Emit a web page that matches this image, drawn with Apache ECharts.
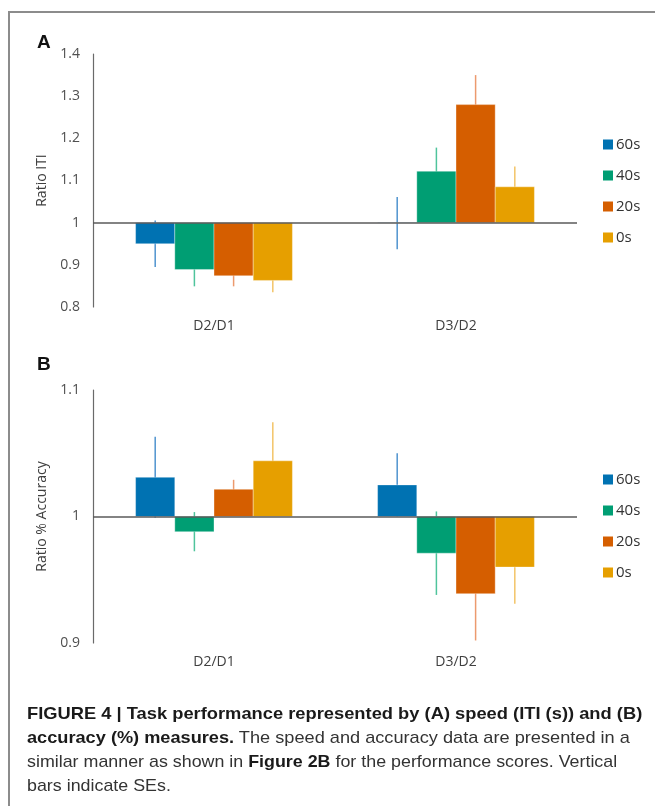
<!DOCTYPE html>
<html>
<head>
<meta charset="utf-8">
<script src="https://cdn.jsdelivr.net/npm/echarts@6/dist/echarts.min.js"></script>
<style>
  html, body { margin: 0; padding: 0; background: #fff; }
  #wrap { position: relative; width: 655px; height: 806px; overflow: hidden; }
  #chart { position: absolute; left: 0; top: 0; width: 655px; height: 806px; }
  #frame { position: absolute; left: 8px; top: 11px; width: 800px; height: 900px;
    border-top: 2px solid #8c8c8c; border-left: 2px solid #8c8c8c; pointer-events: none; }
  #caption { position: absolute; left: 27px; top: 702px; font-family: "Liberation Sans", Arial, sans-serif;
    font-size: 17px; line-height: 24px; color: #333; white-space: nowrap; }
  #caption span { display: inline-block; transform-origin: 0 50%; }
  #caption b { color: #1a1a1a; }
</style>
</head>
<body>
<div id="wrap">
  <div id="chart"></div>
  <div id="frame"></div>
  <div id="caption">
    <span data-w="615"><b>FIGURE 4 | Task performance represented by (A) speed (ITI (s)) and (B)</b></span><br>
    <span data-w="603"><b>accuracy (%) measures.</b> The speed and accuracy data are presented in a</span><br>
    <span data-w="590">similar manner as shown in <b>Figure 2B</b> for the performance scores. Vertical</span><br>
    <span>bars indicate SEs.</span>
  </div>
</div>
<script>
// categories and groups
const categories = ['D2/D1', 'D3/D2'];
const groupNames = ['60s', '40s', '20s', '0s'];

// panel A: ratio ITI (mean, SE) per category
const iti60 = [0.950, 0.999];
const iti40 = [0.889, 1.122];
const iti20 = [0.874, 1.280];
const iti0 = [0.863, 1.085];
const itiSe60 = [0.055, 0.062];
const itiSe40 = [0.040, 0.056];
const itiSe20 = [0.025, 0.070];
const itiSe0 = [0.028, 0.048];

// panel B: ratio % accuracy (mean, SE) per category
const acc60 = [1.031, 1.025];
const acc40 = [0.988, 0.971];
const acc20 = [1.0215, 0.939];
const acc0 = [1.044, 0.960];
const accSe60 = [0.032, 0.025];
const accSe40 = [0.0155, 0.033];
const accSe20 = [0.0075, 0.037];
const accSe0 = [0.0305, 0.029];

const barColors = ['#0072B2', '#009E73', '#D55E00', '#E69F00'];
const errColors = ['#4f93cf', '#4fc49c', '#ec9a6e', '#f3c468'];
const BAR_FRACTION = 0.162; // bar width as part of category band

// stretch caption lines to the widths of the original figure
let lastScale = 1;
document.querySelectorAll('#caption span').forEach(function (el) {
  const target = el.getAttribute('data-w');
  const s = target ? Number(target) / el.offsetWidth : lastScale;
  el.style.transform = 'scaleX(' + s + ')';
  lastScale = s;
});

const chart = echarts.init(document.getElementById('chart'));

function barRenderer(slot) {
  return function (params, api) {
    const ci = api.value(0);
    const v = api.value(1);
    const se = api.value(2);
    const band = api.size([1, 0])[0];
    const w = band * BAR_FRACTION;
    const base = api.coord([ci, 1]);
    const cx = base[0] + (slot - 1.5) * w;
    const yv = api.coord([ci, v])[1];
    const yHi = api.coord([ci, v + se])[1];
    const yLo = api.coord([ci, v - se])[1];
    return {
      type: 'group',
      children: [
        { type: 'line', shape: { x1: cx, y1: yHi, x2: cx, y2: yLo },
          style: { stroke: errColors[slot], lineWidth: 1.5 } },
        { type: 'rect',
          shape: { x: cx - w / 2, y: Math.min(yv, base[1]), width: w, height: Math.abs(yv - base[1]) },
          style: { fill: barColors[slot], stroke: 'rgba(255,255,255,0.35)', lineWidth: 1 } }
      ]
    };
  };
}

function makeSeries(slot, vals, ses, axisIdx) {
  const s = {
    name: groupNames[slot],
    type: 'custom',
    xAxisIndex: axisIdx,
    yAxisIndex: axisIdx,
    renderItem: barRenderer(slot),
    itemStyle: { color: barColors[slot] },
    encode: { x: 0, y: 1 },
    data: vals.map((v, i) => [i, v, ses[i]]),
    silent: true
  };
  if (slot === 0) {
    // baseline at ratio 1
    s.markLine = {
      silent: true, symbol: 'none', label: { show: false },
      lineStyle: { color: '#5a5a5a', width: 1.5, type: 'solid' },
      data: [{ yAxis: 1 }]
    };
  }
  return s;
}

function yAxisFor(gridIdx, name, min, max) {
  return {
    type: 'value', gridIndex: gridIdx, min: min, max: max, interval: 0.1,
    name: name, nameLocation: 'middle', nameGap: 40, nameRotate: 90,
    nameTextStyle: { fontFamily: 'Open Sans', fontSize: 14, color: '#404040' },
    axisLine: { show: true, lineStyle: { color: '#6a6a6a', width: 1.2 } },
    axisTick: { show: false },
    splitLine: { show: false },
    axisLabel: { margin: 13, fontFamily: 'Open Sans', fontSize: 14, color: '#505050' }
  };
}

function xAxisFor(gridIdx) {
  return {
    type: 'category', gridIndex: gridIdx, data: categories,
    axisLine: { show: false }, axisTick: { show: false },
    axisLabel: { margin: 12, fontFamily: 'Open Sans', fontSize: 14, color: '#404040' }
  };
}

function legendAt(top) {
  return {
    orient: 'vertical', left: 598, top: top,
    data: groupNames, icon: 'rect', itemWidth: 10, itemHeight: 10, itemGap: 16,
    selectedMode: false,
    textStyle: { fontFamily: 'Open Sans', fontSize: 15, color: '#333', padding: [0, 0, 0, -2] }
  };
}

chart.setOption({
  animation: false,
  grid: [
    { left: 93, top: 54, width: 484, height: 253 },
    { left: 93, top: 390, width: 484, height: 253 }
  ],
  xAxis: [xAxisFor(0), xAxisFor(1)],
  yAxis: [yAxisFor(0, 'Ratio ITI', 0.8, 1.4), yAxisFor(1, 'Ratio % Accuracy', 0.9, 1.1)],
  legend: [legendAt(132), legendAt(467)],
  graphic: [
    { type: 'text', left: 37, top: 33, style: { text: 'A', font: 'bold 19px Liberation Sans', fill: '#111' } },
    { type: 'text', left: 37, top: 355, style: { text: 'B', font: 'bold 19px Liberation Sans', fill: '#111' } }
  ],
  series: [
    makeSeries(0, iti60, itiSe60, 0),
    makeSeries(1, iti40, itiSe40, 0),
    makeSeries(2, iti20, itiSe20, 0),
    makeSeries(3, iti0, itiSe0, 0),
    makeSeries(0, acc60, accSe60, 1),
    makeSeries(1, acc40, accSe40, 1),
    makeSeries(2, acc20, accSe20, 1),
    makeSeries(3, acc0, accSe0, 1)
  ]
});
</script>
</body>
</html>
